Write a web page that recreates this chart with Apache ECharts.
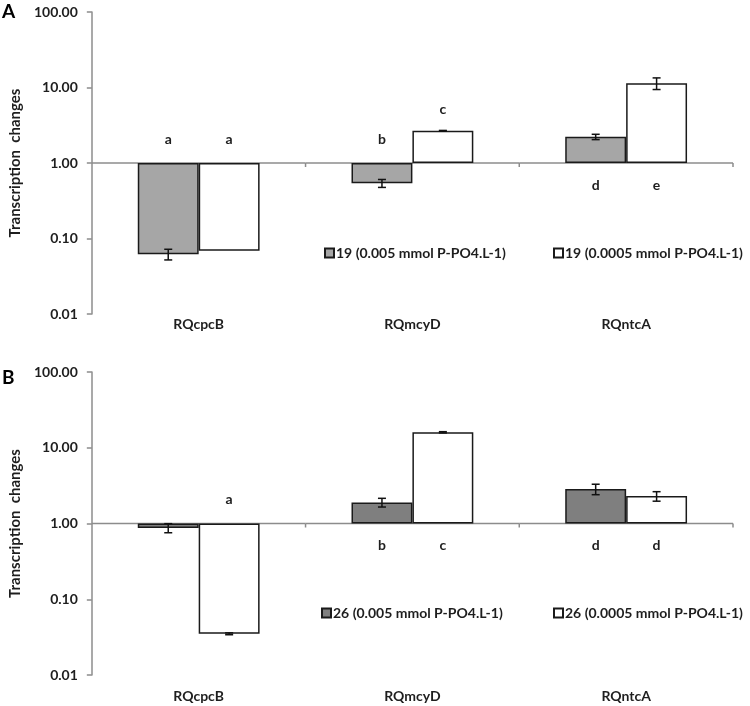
<!DOCTYPE html>
<html>
<head>
<meta charset="utf-8">
<script src="https://cdn.jsdelivr.net/npm/echarts@6/dist/echarts.min.js"></script>
<style>
  html, body { margin: 0; padding: 0; background: #fff; }
  #chart { width: 750px; height: 706px; }
</style>
</head>
<body>
<div id="chart"></div>
<script>
// categories and axis ticks
const genes = ['RQcpcB', 'RQmcyD', 'RQntcA'];
const yTicks = [0.01, 0.1, 1, 10, 100];

// panel A
const nameA1 = '19 (0.005 mmol P-PO4.L-1)';
const nameA2 = '19 (0.0005 mmol P-PO4.L-1)';
const valuesA1 = [0.062, 0.54, 2.22];
const errA1 = [0.010, 0.065, 0.18];
const valuesA2 = [0.069, 2.67, 11.4];
const errA2 = [0, 0.03, 2.0];
const lettersA1 = ['a', 'b', 'd'];
const lettersA2 = ['a', 'c', 'e'];

// panel B
const nameB1 = '26 (0.005 mmol P-PO4.L-1)';
const nameB2 = '26 (0.0005 mmol P-PO4.L-1)';
const valuesB1 = [0.875, 1.90, 2.85];
const errB1 = [0.12, 0.25, 0.45];
const valuesB2 = [0.035, 16.0, 2.30];
const errB2 = [0.001, 0.3, 0.33];
const lettersB1 = ['', 'b', 'd'];
const lettersB2 = ['a', 'c', 'd'];

const CAT_GAP = 0.43;
const FONT = 'Lato, "Open Sans", sans-serif';
const TXT = '#1e1e1e';
const AXIS_GREY = '#8c8c8c';

const myChart = echarts.init(document.getElementById('chart'));

function bar(g, name, values, fill) {
  return {
    name: name, type: 'bar', xAxisIndex: g, yAxisIndex: g,
    data: values, barGap: '0%', barCategoryGap: (CAT_GAP * 100) + '%',
    itemStyle: { color: fill, borderColor: '#1a1a1a', borderWidth: 1.5 },
    emphasis: { disabled: true }
  };
}

// error bars + significance letters, side -1 = left bar, +1 = right bar
function overlay(g, side, values, errs, letters, onTop) {
  return {
    type: 'custom', xAxisIndex: g, yAxisIndex: g, silent: true, z: 5,
    data: values.map((v, i) => [i, v, errs[i]]),
    renderItem: function (params, api) {
      const i = api.value(0), v = api.value(1), e = api.value(2);
      const band = api.size([1, 0])[0];
      const barW = band * (1 - CAT_GAP) / 2;
      const base = api.coord([i, 1]);
      const x = base[0] + side * barW / 2;
      const yVal = api.coord([i, v])[1];
      const children = [];
      if (e > 0) {
        const yHi = api.coord([i, v + e])[1];
        const yLo = api.coord([i, v - e])[1];
        const st = { stroke: '#111', lineWidth: 1.5 };
        children.push(
          { type: 'line', shape: { x1: x, y1: yHi, x2: x, y2: yLo }, style: st },
          { type: 'line', shape: { x1: x - 4, y1: yHi, x2: x + 4, y2: yHi }, style: st },
          { type: 'line', shape: { x1: x - 4, y1: yLo, x2: x + 4, y2: yLo }, style: st }
        );
      }
      const letter = letters[params.dataIndex];
      if (letter) {
        let ty;
        if (onTop.indexOf(params.dataIndex) >= 0) ty = yVal - 21;
        else if (v < 1) ty = base[1] - 24;
        else ty = base[1] + 22;
        children.push({
          type: 'text', x: x, y: ty,
          style: { text: letter, font: 'bold 14px ' + FONT, fill: TXT, align: 'center', verticalAlign: 'middle' }
        });
      }
      return { type: 'group', children: children };
    }
  };
}

// baseline at 1.00 with ticks between categories
function baseline(g) {
  return {
    type: 'custom', xAxisIndex: g, yAxisIndex: g, silent: true, z: 1,
    data: genes.map((c, i) => [i, 1]),
    renderItem: function (params, api) {
      const band = api.size([1, 0])[0];
      const c = api.coord([api.value(0), 1]);
      const st = { stroke: AXIS_GREY, lineWidth: 1.5 };
      return {
        type: 'group', children: [
          { type: 'line', shape: { x1: c[0] - band / 2, y1: c[1], x2: c[0] + band / 2, y2: c[1] }, style: st },
          { type: 'line', shape: { x1: c[0] + band / 2, y1: c[1], x2: c[0] + band / 2, y2: c[1] + 4 }, style: st }
        ]
      };
    }
  };
}

function xAxis(g, margin) {
  return {
    type: 'category', gridIndex: g, data: genes,
    axisLine: { show: false }, axisTick: { show: false },
    axisLabel: { margin: margin, fontFamily: FONT, fontWeight: 'bold', fontSize: 14, color: TXT }
  };
}

function yAxis(g) {
  return {
    type: 'log', logBase: 10, gridIndex: g,
    min: yTicks[0], max: yTicks[yTicks.length - 1],
    splitLine: { show: false },
    axisLine: { show: true, lineStyle: { color: AXIS_GREY, width: 1.5 } },
    axisTick: { show: true, length: 5, lineStyle: { color: AXIS_GREY, width: 1.5 } },
    axisLabel: {
      formatter: v => Number(v).toFixed(2), margin: 14,
      fontFamily: FONT, fontWeight: 'bold', fontSize: 14, color: TXT
    },
    name: 'Transcription  changes', nameLocation: 'middle', nameGap: 67,
    nameTextStyle: { fontFamily: FONT, fontWeight: 'bold', fontSize: 15, color: TXT }
  };
}

function legend(name, left, top) {
  return {
    data: [name], left: left, top: top, itemWidth: 9, itemHeight: 9,
    icon: 'rect', selectedMode: false,
    textStyle: { fontFamily: FONT, fontWeight: 'bold', fontSize: 14, color: TXT, padding: [0, 0, 0, -3] }
  };
}

myChart.setOption({
  animation: false,
  backgroundColor: '#fff',
  grid: [
    { left: 87, right: 17, top: 12, height: 302 },
    { left: 87, right: 17, top: 372, height: 303 }
  ],
  xAxis: [xAxis(0, 3), xAxis(1, 14)],
  yAxis: [yAxis(0), yAxis(1)],
  legend: [
    legend(nameA1, 319, 241),
    legend(nameA2, 548, 241),
    legend(nameB1, 316, 601),
    legend(nameB2, 548, 601)
  ],
  graphic: [
    { type: 'text', left: 2, top: 2, style: { text: 'A', font: 'bold 19px ' + FONT, fill: '#000' } },
    { type: 'text', left: 2, top: 368, style: { text: 'B', font: 'bold 19px ' + FONT, fill: '#000' } }
  ],
  series: [
    baseline(0), baseline(1),
    bar(0, nameA1, valuesA1, '#a6a6a6'),
    bar(0, nameA2, valuesA2, '#ffffff'),
    bar(1, nameB1, valuesB1, '#7f7f7f'),
    bar(1, nameB2, valuesB2, '#ffffff'),
    overlay(0, -1, valuesA1, errA1, lettersA1, []),
    overlay(0, 1, valuesA2, errA2, lettersA2, [1]),
    overlay(1, -1, valuesB1, errB1, lettersB1, []),
    overlay(1, 1, valuesB2, errB2, lettersB2, [])
  ]
});
</script>
</body>
</html>
